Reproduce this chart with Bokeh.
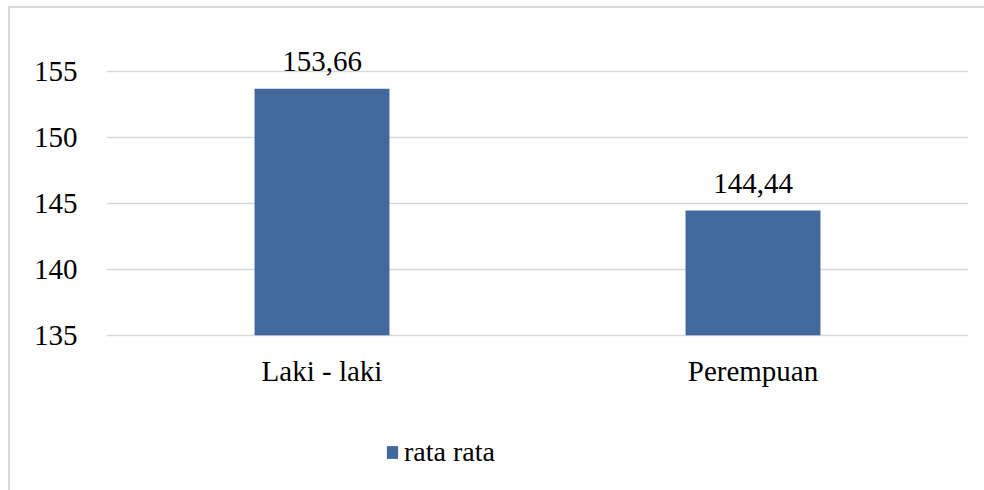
from bokeh.plotting import figure
from bokeh.models import ColumnDataSource, LabelSet, Legend, LegendItem, FactorRange, FixedTicker
from bokeh.embed import file_html
from bokeh.resources import INLINE

categories = ["Laki - laki", "Perempuan"]
values = [153.66, 144.44]
value_labels = ["153,66", "144,44"]
series_name = "rata rata"
y_ticks = [135, 140, 145, 150, 155]

FONT = "Liberation Serif"
BAR = "#41699B"
GRID = "#D9D9D9"

src = ColumnDataSource(dict(cat=categories, val=values, lab=value_labels))

p = figure(width=974, height=482, output_backend="svg", toolbar_location=None,
           x_range=FactorRange(*categories, range_padding=0),
           y_range=(124, 158),
           frame_width=862, frame_height=449,
           min_border_left=96, min_border_top=23, min_border_right=16,
           min_border_bottom=10)
p.styles = {"border-top": "2px solid #D9D9D9", "border-left": "2px solid #D9D9D9",
            "margin-left": "8px", "margin-top": "6px"}
p.outline_line_color = None
p.background_fill_color = "white"

r = p.vbar(x="cat", top="val", bottom=135, width=0.313, source=src,
           fill_color=BAR, line_color=None)

labels = LabelSet(x="cat", y="val", text="lab", source=src, y_offset=18,
                  text_align="center", text_baseline="alphabetic",
                  text_font=FONT, text_font_size="29px", text_color="black")
p.add_layout(labels)

p.yaxis.ticker = FixedTicker(ticks=y_ticks)
p.ygrid.ticker = FixedTicker(ticks=y_ticks)
p.xgrid.grid_line_color = None
p.ygrid.grid_line_color = GRID
p.ygrid.grid_line_width = 1.5

for ax in (p.xaxis[0], p.yaxis[0]):
    ax.axis_line_color = None
    ax.major_tick_line_color = None
    ax.minor_tick_line_color = None
    ax.major_tick_out = 0
    ax.major_tick_in = 0
    ax.major_label_text_font = FONT
    ax.major_label_text_font_size = "29px"
    ax.major_label_text_color = "black"
p.yaxis.major_label_standoff = 29
p.xaxis.major_label_standoff = 20
p.xaxis.fixed_location = 135

legend = Legend(items=[LegendItem(label=series_name, renderers=[r])],
                location=(279, 12), orientation="horizontal",
                glyph_width=14, glyph_height=16, label_standoff=5,
                label_text_font=FONT, label_text_font_size="28px",
                label_text_color="black", padding=0, margin=0,
                border_line_color=None, background_fill_alpha=0)
p.add_layout(legend, "center")

open("out.html", "w").write(file_html(p, INLINE))
